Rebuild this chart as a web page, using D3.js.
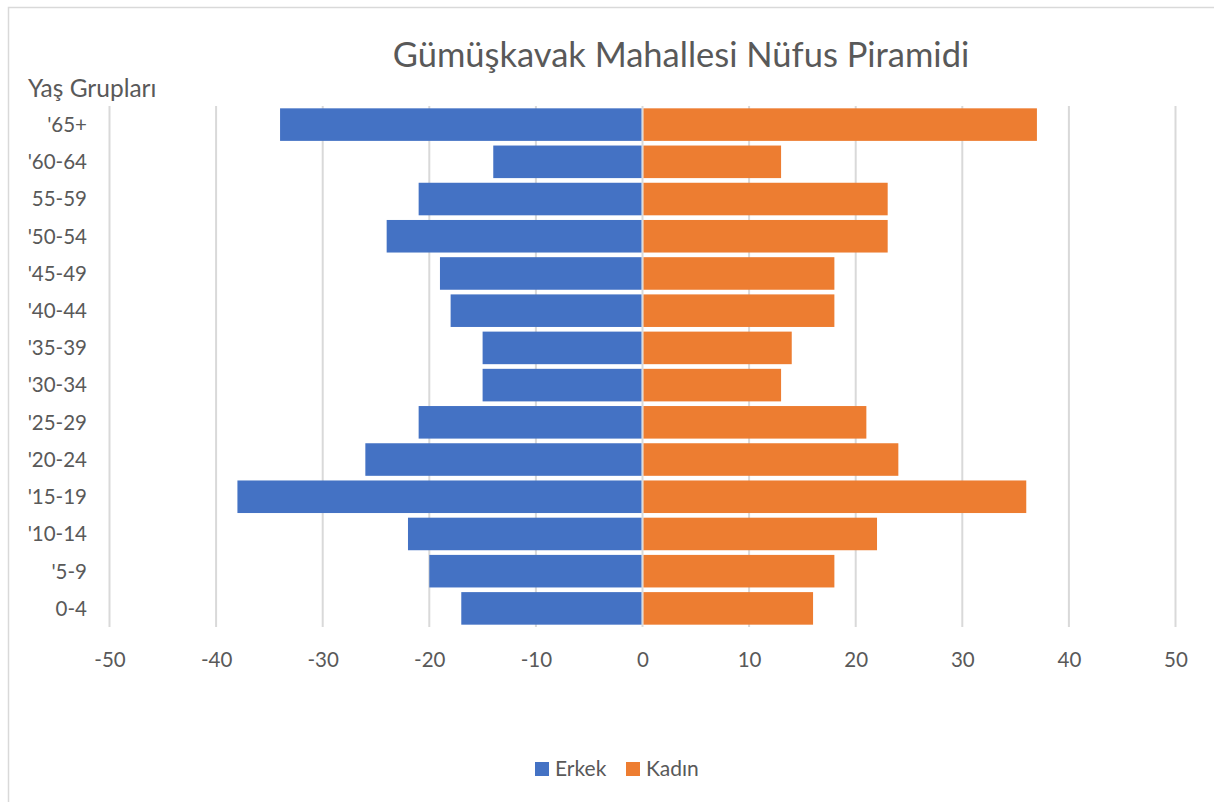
<!DOCTYPE html>
<html>
<head>
<meta charset="utf-8">
<script src="https://cdn.jsdelivr.net/npm/d3@7"></script>
<style>
  body { margin: 0; background: #fff; }
  svg { display: block; font-family: Lato, "Open Sans", sans-serif; }
</style>
</head>
<body>
<svg></svg>
<script>
//Data
var ageGroups = ["0-4", "'5-9", "'10-14", "'15-19", "'20-24", "'25-29", "'30-34", "'35-39", "'40-44", "'45-49", "'50-54", "55-59", "'60-64", "'65+"];
var erkek = [-17, -20, -22, -38, -26, -21, -15, -15, -18, -19, -24, -21, -14, -34];
var kadin = [16, 18, 22, 36, 24, 21, 13, 14, 18, 18, 23, 23, 13, 37];
var xTicks = [-50, -40, -30, -20, -10, 0, 10, 20, 30, 40, 50];

//Dimensions
var width = 1214;
var height = 802;
var svg = d3.select('svg')
            .attr('width', width)
            .attr('height', height);

var textColor = '#595959';

//chart border
svg.append('rect')
   .attr('x', 8.5).attr('y', 7.5)
   .attr('width', 1220).attr('height', 810)
   .attr('fill', 'none')
   .attr('stroke', '#d9d9d9')
   .attr('stroke-width', 1.5);

//Scales
var x = d3.scaleLinear()
          .domain([-50, 50])
          .range([109.5, 1175.5]);

var y = d3.scaleBand()
          .domain(ageGroups.slice().reverse())
          .range([106, 627])
          .paddingInner(0.125)
          .paddingOuter(0.0625);

//Gridlines
svg.append('g')
   .selectAll('line')
   .data(xTicks)
   .enter()
   .append('line')
   .attr('x1', d => x(d)).attr('x2', d => x(d))
   .attr('y1', 106).attr('y2', 627)
   .attr('stroke', '#d9d9d9')
   .attr('stroke-width', 2);

//Bars
var rows = ageGroups.map((g, i) => ({group: g, erkek: erkek[i], kadin: kadin[i]}));

svg.append('g')
   .selectAll('rect')
   .data(rows)
   .enter()
   .append('rect')
   .attr('x', d => x(d.erkek))
   .attr('y', d => y(d.group))
   .attr('width', d => x(0) - x(d.erkek) - 1)
   .attr('height', y.bandwidth())
   .attr('fill', '#4472C4');

svg.append('g')
   .selectAll('rect')
   .data(rows)
   .enter()
   .append('rect')
   .attr('x', d => x(0) + 1)
   .attr('y', d => y(d.group))
   .attr('width', d => x(d.kadin) - x(0) - 1)
   .attr('height', y.bandwidth())
   .attr('fill', '#ED7D31');

//X axis labels (plain hyphen, like the original)
var xAxis = d3.axisBottom(x)
              .tickValues(xTicks)
              .tickFormat(d => String(d))
              .tickSize(0)
              .tickPadding(0);

var xg = svg.append('g')
            .attr('transform', 'translate(0,667)')
            .call(xAxis);
xg.select('.domain').remove();
xg.selectAll('text')
  .attr('y', 0)
  .attr('dy', 0)
  .attr('fill', textColor)
  .style('font-size', '20.5px')
  .style('font-family', 'Lato, "Open Sans", sans-serif');

//Y axis labels
var yAxis = d3.axisLeft(y)
              .tickSize(0)
              .tickPadding(0);
var yg = svg.append('g')
            .attr('transform', 'translate(87,0)')
            .call(yAxis);
yg.select('.domain').remove();
yg.selectAll('text')
  .attr('dy', '0.36em')
  .attr('fill', textColor)
  .style('font-size', '20.5px')
  .style('font-family', 'Lato, "Open Sans", sans-serif');

//Axis title
svg.append('text')
   .attr('x', 28).attr('y', 97)
   .attr('fill', textColor)
   .style('font-size', '24.5px')
   .text('Yaş Grupları');

//Title
svg.append('text')
   .attr('x', 681).attr('y', 67)
   .attr('text-anchor', 'middle')
   .attr('fill', textColor)
   .style('font-size', '34.5px')
   .text('Gümüşkavak Mahallesi Nüfus Piramidi');

//Legend
var legend = [{name: 'Erkek', color: '#4472C4', x: 535}, {name: 'Kadın', color: '#ED7D31', x: 626}];
var lg = svg.append('g').selectAll('g').data(legend).enter().append('g');
lg.append('rect')
  .attr('x', d => d.x).attr('y', 762)
  .attr('width', 14).attr('height', 14)
  .attr('fill', d => d.color);
lg.append('text')
  .attr('x', d => d.x + 20).attr('y', 776)
  .attr('fill', textColor)
  .style('font-size', '21px')
  .text(d => d.name);
</script>
</body>
</html>
